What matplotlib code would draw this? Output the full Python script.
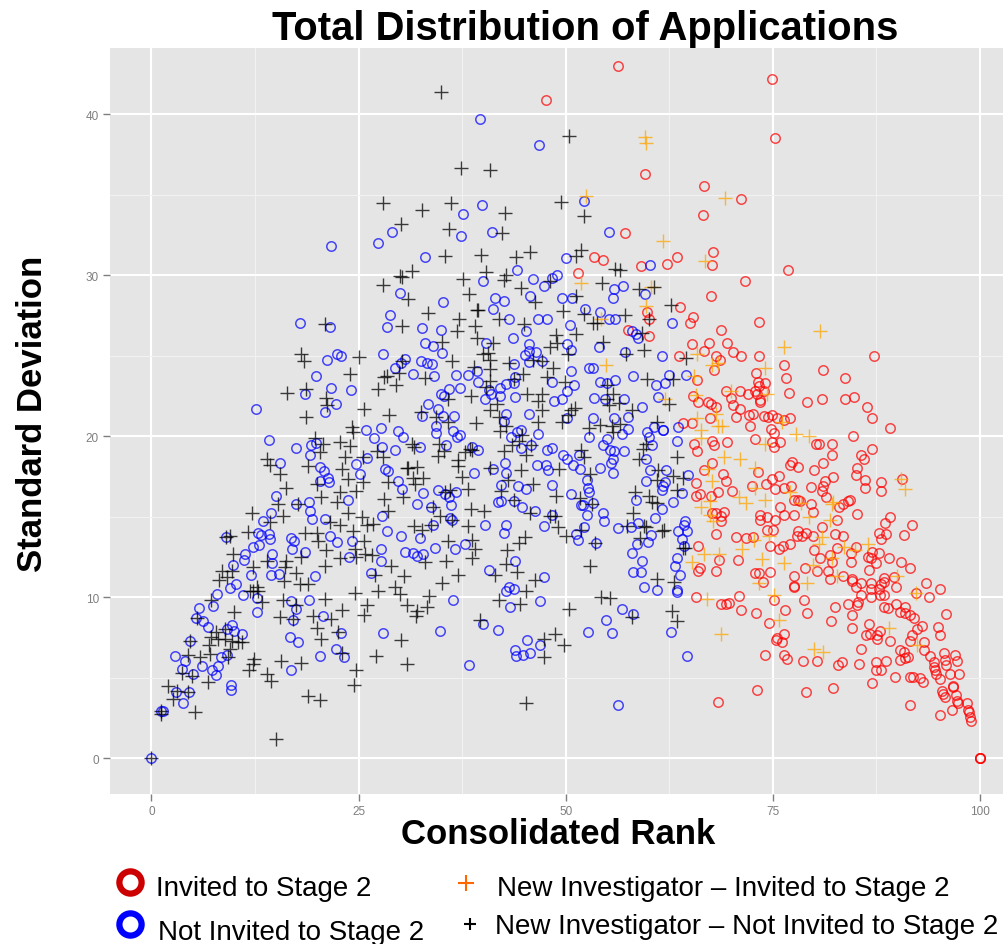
import numpy as np
import matplotlib
matplotlib.use('Agg')
import matplotlib.pyplot as plt
from matplotlib.lines import Line2D

plt.rcParams['font.family'] = ['Liberation Sans', 'DejaVu Sans']

# Invited to Stage 2 (rank, sd)
invited = [
(65.3,25.7),(69.5,25.8),(70.2,25.2),(71.1,25.0),(73.3,25.0),(68.2,25.0),(87.2,25.0),(76.4,24.4),(81.1,24.1),(67.9,24.1),
(73.0,23.9),(83.7,23.6),(65.9,23.5),(76.6,23.6),(73.2,23.35),(74.1,23.3),(73.3,23.1),(72.8,22.8),(73.9,22.8),(76.9,22.7),
(69.3,22.8),(71.0,22.8),(72.0,22.6),(73.1,22.6),(70.0,22.35),(73.4,22.25),(73.4,22.1),(65.4,22.5),(66.0,22.1),(67.2,22.1),
(67.5,22.0),(80.9,22.3),(79.1,22.1),(83.7,22.3),(84.8,22.4),(86.4,21.8),(70.2,21.9),(71.0,21.7),(68.2,21.8),(70.6,21.2),
(72.1,21.3),(72.6,21.4),(73.9,21.25),(74.4,21.2),(74.9,21.3),(75.5,21.15),(76.3,21.0),(77.1,21.1),(67.4,21.1),(65.3,20.8),
(64.1,20.8),(87.0,21.1),(89.2,20.5),(72.3,20.6),(74.8,20.45),(75.2,20.2),(84.7,20.0),(72.9,19.8),(67.6,19.7),(69.5,19.6),
(65.5,19.5),(67.9,19.45),(74.9,19.6),(75.9,19.6),(75.1,19.3),(80.2,19.5),(80.6,19.5),(82.2,19.5),(87.0,19.2),(65.9,19.1),
(82.1,18.85),(85.7,18.85),(86.0,18.6),(77.3,18.4),(77.1,18.2),(78.0,18.1),(81.0,18.3),(80.0,17.9),(67.7,18.3),(66.7,17.9),
(85.2,18.0),(85.0,17.6),(73.2,17.75),(69.0,17.65),(82.3,17.45),(81.3,17.2),(86.1,17.3),(88.0,17.15),(90.6,17.35),(74.9,17.35),
(75.8,17.5),(69.4,17.2),(65.7,17.1),(74.2,17.0),(72.5,16.9),(76.3,16.8),(77.2,16.9),(79.6,16.85),(81.0,16.9),(86.1,16.8),
(75.3,16.7),(80.9,16.6),(88.1,16.6),(70.1,16.6),(68.4,16.5),(67.5,16.3),(66.2,16.4),(65.7,16.3),(81.4,16.2),(77.5,16.0),
(78.3,15.95),(78.0,16.0),(79.6,15.8),(84.3,16.0),(84.1,15.95),(83.5,15.8),(83.0,15.6),(75.9,15.6),(79.9,15.3),(69.1,15.3),
(68.1,15.2),(67.6,15.2),(68.7,15.05),(76.4,15.1),(77.6,15.1),(85.2,15.15),(89.1,15.0),(73.4,15.1),(74.3,15.0),(73.5,14.8),
(75.3,14.8),(82.8,14.8),(68.8,14.7),(88.5,14.6),(91.8,14.45),(80.9,14.35),(74.3,14.15),(75.0,14.15),(78.0,14.1),(79.0,14.0),
(68.1,13.9),(77.9,13.8),(78.5,13.8),(79.8,13.8),(82.5,13.9),(83.5,13.8),(87.8,14.0),(88.6,13.9),(90.8,13.85),(70.5,13.7),
(71.8,13.65),(72.6,13.7),(88.1,13.6),(77.1,13.3),(76.2,13.2),(66.0,13.2),(74.6,13.2),(75.8,13.0),(80.0,12.9),(82.7,13.05),
(85.0,13.1),(84.4,12.75),(87.0,12.8),(87.8,12.75),(81.9,12.6),(86.5,12.5),(86.9,12.4),(89.0,12.4),(80.7,12.4),(68.5,12.3),
(70.8,12.3),(84.4,12.15),(82.1,12.15),(90.5,12.2),(87.4,12.1),(66.2,11.8),(66.0,11.65),(68.2,11.65),(78.9,11.8),(80.3,11.6),
(81.7,11.65),(86.6,11.7),(91.5,11.8),(72.8,11.5),(73.3,11.5),(74.6,11.55),(83.5,11.3),(77.5,11.3),(81.9,11.1),(84.5,11.15),
(84.6,11.0),(85.6,10.9),(86.8,10.9),(88.4,11.2),(88.4,10.95),(89.6,11.25),(88.1,10.8),(77.5,10.7),(77.5,10.65),(73.8,10.95),
(85.0,10.6),(86.8,10.5),(87.8,10.5),(89.85,10.6),(93.5,10.85),(95.2,10.5),(92.3,10.25),(93.9,10.0),(85.6,10.1),(86.8,10.0),
(87.9,10.1),(88.4,10.1),(65.7,10.0),(70.9,10.05),(78.8,9.8),(75.2,9.8),(69.75,9.65),(68.8,9.55),(69.3,9.55),(85.3,9.7),
(84.1,9.55),(85.1,9.5),(82.5,9.4),(88.4,9.4),(88.9,9.3),(89.85,9.55),(90.9,9.4),(71.1,9.2),(76.5,9.2),(73.0,9.0),
(79.1,9.0),(84.5,8.9),(90.3,9.05),(91.0,9.0),(91.5,8.9),(92.0,8.7),(95.9,8.95),(82.0,8.5),(74.5,8.4),(84.5,8.1),
(86.6,8.3),(93.0,8.2),(94.9,8.15),(92.4,8.0),(87.9,7.9),(76.3,7.7),(86.2,7.65),(86.7,7.7),(87.6,7.65),(91.8,7.65),
(95.2,7.65),(75.5,7.45),(75.4,7.35),(76.1,7.2),(87.6,7.4),(89.2,7.3),(91.5,7.25),(93.2,7.2),(93.3,6.7),(85.6,6.8),
(90.4,6.7),(90.8,6.6),(74.1,6.4),(76.3,6.4),(76.7,6.15),(94.0,6.35),(95.6,6.5),(97.0,6.4),(91.3,6.3),(90.9,6.2),
(90.3,6.1),(88.7,6.05),(95.8,6.1),(97.25,6.0),(78.6,6.0),(80.3,6.0),(83.4,5.95),(82.9,5.8),(85.35,5.85),(87.4,5.95),
(94.5,5.95),(95.9,5.8),(94.4,5.65),(94.6,5.45),(87.4,5.5),(88.0,5.45),(94.7,5.25),(96.4,5.25),(97.5,5.25),(89.7,5.05),
(91.5,5.05),(91.9,5.05),(92.8,5.0),(93.1,4.7),(95.2,4.9),(87.0,4.65),(73.1,4.25),(79.0,4.1),(82.3,4.35),(96.7,4.5),
(96.8,4.4),(95.4,4.15),(95.5,4.0),(95.8,3.8),(97.1,3.9),(97.25,3.55),(97.4,3.4),(98.4,3.4),(68.4,3.5),(91.5,3.3),
(96.6,3.0),(98.6,3.0),(98.65,2.85),(95.2,2.7),(98.8,2.55),(98.9,2.3),(100,0),(100,0),(100,0),
(56.35,43.0),(47.6,40.9),(59.6,36.3),(57.2,32.6),(53.45,31.15),(54.5,30.95),(59.1,30.55),(62.2,30.7),(63.4,31.1),(51.5,30.1),
(63.8,28.0),(59.8,27.7),(60.0,27.25),(65.4,27.4),(65.0,27.0),(57.5,26.6),(60.1,26.2),(63.7,25.0),(74.9,42.2),(75.3,38.5),
(71.2,34.7),(66.7,35.5),(66.6,33.7),(67.8,31.4),(67.7,30.6),(71.6,29.6),(76.8,30.3),(67.5,28.7),(68.7,26.6),(73.3,27.1),
(67.3,25.8),(68.6,24.7),(66.7,25.3),
]

# New Investigator - Invited to Stage 2
new_invited = [
(76.3,25.5),(65.9,25.1),(68.4,24.55),(67.7,24.4),(74.1,24.2),(65.5,23.7),(74.3,22.6),(69.9,22.8),(65.7,22.55),(68.2,21.4),
(65.8,21.15),(68.9,20.6),(68.4,20.6),(76.1,20.9),(66.3,20.35),(66.3,19.9),(77.8,20.1),(79.4,20.0),(74.1,19.5),(69.1,18.7),
(71.0,18.6),(72.9,18.0),(67.6,17.2),(67.2,17.95),(90.5,17.35),(90.9,16.7),(72.8,16.8),(77.1,16.5),(70.9,16.2),(71.8,15.85),
(74.1,16.05),(67.4,15.95),(66.3,15.6),(82.3,15.9),(82.1,15.8),(78.4,15.85),(79.4,15.0),(81.9,14.8),(67.4,15.1),(67.8,14.7),
(74.5,13.8),(80.9,13.7),(72.7,13.55),(80.6,13.3),(86.5,13.3),(71.3,13.0),(66.65,12.7),(68.5,12.7),(83.6,13.1),(84.9,12.9),
(82.1,12.4),(73.7,12.35),(76.3,12.1),(65.2,12.2),(79.9,12.0),(90.0,11.3),(82.8,11.3),(79.1,10.9),(73.3,10.85),(92.3,10.25),
(75.2,10.1),(67.0,9.9),(75.7,8.6),(89.0,8.1),(68.8,7.7),(92.4,7.0),(80.0,6.8),(81.0,6.6),
(59.6,38.6),(59.65,38.2),(52.4,34.9),(61.7,32.1),(51.85,29.5),(60.25,29.25),(54.3,27.3),(59.65,28.05),(54.9,24.4),(62.0,22.3),
(66.8,30.85),(69.2,34.8),(80.7,26.5),
]

# Not Invited to Stage 2
not_invited = [
(0,0),(1.2,2.9),(1.35,2.95),(3.0,4.1),(4.5,4.1),(3.8,3.4),(9.55,4.2),(9.65,4.55),(2.9,6.35),(4.0,6.0),
(3.7,5.55),(5.05,5.2),(6.05,5.7),(7.35,5.5),(8.0,5.7),(7.75,5.15),(8.4,6.25),(9.1,6.4),(4.65,7.3),(5.4,8.7),
(5.75,9.3),(6.2,8.5),(6.85,8.15),(7.4,9.45),(9.1,8.0),(9.7,8.25),(10.0,7.9),(10.9,7.7),(7.95,10.2),(9.5,10.55),
(10.15,10.8),(11.0,10.15),(12.7,9.95),(12.8,9.1),(9.9,12.0),(8.95,13.75),(11.15,12.3),(11.3,12.7),(12.3,13.1),(13.0,13.25),
(12.85,14.0),(13.2,13.85),(14.2,13.9),(14.3,13.6),(13.45,14.75),(14.4,15.25),(15.0,16.3),(14.25,19.75),(15.55,18.3),(17.4,19.25),
(19.1,18.85),(19.3,19.45),(19.85,19.55),(20.4,18.05),(20.8,17.85),(20.4,17.2),(21.4,17.15),(21.35,17.4),(17.5,15.8),(19.05,15.9),
(19.1,15.35),(19.35,14.85),(21.0,14.85),(21.6,13.8),(22.4,13.4),(16.8,13.65),(17.25,13.5),(17.0,13.0),(18.5,12.8),(14.5,12.65),
(14.6,12.1),(12.0,11.35),(14.4,11.35),(15.4,11.45),(19.7,11.3),(16.8,9.75),(17.4,9.25),(19.05,9.8),(17.1,8.6),(20.75,8.8),
(16.75,7.5),(17.7,7.2),(22.9,7.75),(20.3,6.35),(22.3,6.75),(23.3,6.3),(16.8,5.45),(27.9,7.75),(23.75,16.0),(24.15,13.5),
(23.9,12.5),(27.7,13.0),(27.7,12.25),(26.5,11.5),(27.8,15.05),(28.45,14.1),(30.1,13.8),(30.6,12.8),(24.65,18.25),(25.2,17.65),
(26.0,18.65),(28.2,17.95),(28.6,17.85),(29.8,17.2),(30.3,16.7),(25.9,20.4),(27.65,20.5),(26.9,19.85),(27.85,19.35),(29.35,19.15),
(29.8,20.3),(30.4,19.95),
(39.6,39.7),(46.75,38.05),(39.95,34.35),(37.65,33.8),(52.2,34.6),(37.4,32.4),(41.15,32.65),(55.25,32.7),(33.05,31.15),(50.0,31.05),
(60.2,30.6),(44.1,30.3),(46.05,29.75),(40.0,29.6),(48.3,29.8),(49.0,30.0),(47.4,29.35),(55.85,29.15),(56.9,29.3),(55.7,28.55),
(59.55,28.8),(41.45,28.6),(42.5,28.4),(45.7,28.7),(49.6,28.6),(50.8,28.6),(35.2,28.35),(41.25,27.9),(43.1,27.3),
(52.3,27.9),(54.2,27.7),(46.6,27.25),(47.7,27.3),(55.2,27.3),(55.9,27.3),(62.8,27.05),(32.65,26.7),(34.95,26.6),(45.25,26.5),
(50.5,26.9),(58.05,26.5),(58.45,26.35),(58.7,26.1),(43.6,26.1),(40.4,25.8),(33.0,25.8),(33.95,25.6),(45.6,25.7),(50.2,25.7),
(54.05,25.5),(35.05,25.15),(46.4,25.2),(45.55,25.3),(45.1,25.05),(50.7,25.35),(57.1,25.2),(61.6,24.95),
(32.55,24.65),(33.2,24.55),(33.85,24.5),(43.8,24.5),(45.55,24.6),(47.1,24.65),(52.85,24.25),(53.3,24.25),(50.65,24.05),(39.25,24.05),
(31.55,23.85),(34.1,23.75),(36.75,23.8),(38.15,23.8),(43.9,23.65),(58.15,23.75),(62.45,23.8),(64.5,23.8),(39.45,23.35),(43.75,23.3),
(42.8,23.25),(48.4,23.35),(54.15,23.35),(54.95,23.3),(55.9,23.5),(61.95,23.3),(60.9,23.15),(51.0,23.15),(35.9,22.9),(37.25,23.0),
(35.0,22.6),(35.3,22.5),(40.8,22.85),(42.05,23.0),(40.95,22.6),(42.05,22.5),(40.3,22.3),(43.9,22.4),(50.1,22.8),(49.5,22.3),
(48.6,22.15),(53.45,22.35),(54.7,22.3),(57.05,22.3),(61.2,22.4),(33.35,22.0),(34.55,21.7),(59.15,21.8),(32.65,21.25),(35.15,21.25),
(36.55,21.25),(42.85,21.4),(45.55,21.4),(53.35,21.1),(55.85,21.15),(57.5,21.2),(50.1,21.15),(42.55,20.95),(34.3,20.65),(60.6,20.55),
(61.8,20.4),(63.6,20.55),
(21.65,31.8),(27.4,32.0),(29.05,32.65),(29.95,28.9),(28.75,27.5),(28.4,26.8),(17.9,27.05),(21.6,26.8),(22.35,25.1),(22.85,24.95),
(21.2,24.75),(27.9,25.1),(30.6,24.8),(30.1,24.55),(29.4,24.2),(19.85,23.7),(21.65,23.0),(24.1,22.85),(18.5,22.6),(22.25,22.0),
(12.65,21.65),(21.0,21.5),
(34.4,20.2),(36.35,20.3),(37.25,20.05),(36.85,19.95),(32.4,19.3),(35.55,19.45),(43.35,19.95),(44.1,20.25),(44.6,20.4),
(46.65,20.1),(45.8,19.45),(44.6,19.25),(47.8,19.15),(48.4,19.25),(39.45,19.15),(38.65,19.3),(52.85,19.95),(54.55,19.45),(55.0,19.8),
(56.75,20.15),(57.5,20.45),(59.85,20.25),(60.0,19.95),(60.45,19.45),(61.8,20.35),(63.4,19.7),(57.05,19.1),(55.4,19.15),(55.85,19.05),
(55.75,18.55),(55.5,18.35),(49.7,18.85),(50.1,18.55),(51.6,18.85),(50.9,18.2),(51.7,17.95),(54.15,18.0),(55.75,17.7),(59.75,18.55),
(60.15,17.9),(62.05,17.9),(64.8,17.6),(42.7,18.35),(42.75,17.7),(41.2,17.95),(38.95,17.7),(46.5,18.2),(47.6,18.2),(47.85,17.9),
(52.6,17.3),(59.75,17.2),(62.0,17.15),(61.8,16.9),(61.6,16.65),(48.3,16.95),(42.2,16.95),(44.3,16.9),(45.15,16.7),(52.75,16.8),
(52.8,16.5),(50.7,16.4),(32.8,16.45),(34.6,16.65),(35.45,16.4),(35.95,16.2),(36.75,16.55),(64.0,16.45),(58.5,16.05),
(63.0,15.9),(41.85,15.9),(42.25,15.95),(43.7,15.95),(44.75,15.6),(46.3,15.35),(32.1,15.75),(33.7,15.6),(36.1,15.7),(51.9,15.7),
(52.1,15.7),(53.35,15.85),(52.55,15.1),(54.55,15.25),(54.6,14.75),(61.65,15.5),(60.8,14.9),(48.3,15.1),(36.05,14.9),(36.25,14.8),
(33.95,14.45),(40.2,14.45),(42.8,14.45),(42.55,13.95),(47.4,14.4),(52.25,14.35),(51.3,13.9),(51.45,13.55),(56.35,14.3),(57.9,14.35),
(58.75,14.6),(64.4,14.7),(64.3,14.45),(64.6,14.1),(63.5,14.1),(64.0,13.6),(60.35,13.85),(59.95,13.45),(58.65,13.3),
(32.4,13.65),(34.2,13.05),(36.65,13.0),(37.9,13.3),(31.55,12.75),(32.0,12.55),(32.8,12.65),(53.6,13.35),(57.95,12.75),
(64.3,13.2),(63.4,12.45),(63.25,11.95),(59.25,12.25),(43.9,12.25),(40.8,11.7),(47.4,11.25),(58.1,11.55),(59.1,11.55),(63.8,11.4),
(59.45,10.65),(61.0,10.45),(63.4,10.45),(63.45,10.3),(43.2,10.65),(43.7,10.5),(42.85,10.35),(36.45,9.8),(46.9,9.75),(43.3,9.4),
(56.85,9.25),(58.15,8.95),(54.85,8.6),(40.05,8.35),(41.85,7.95),(34.85,7.9),(52.65,7.8),(55.6,7.75),(62.7,7.85),(45.3,7.35),
(46.9,7.0),(43.9,6.7),(44.0,6.35),(44.9,6.4),(45.75,6.5),(38.3,5.8),(64.7,6.35),(56.35,3.3),
]

# New Investigator - Not Invited to Stage 2
new_not_invited = [
(1.2,2.75),(1.2,2.95),(0,0),(2.0,4.5),(2.65,3.65),(3.05,4.15),(4.45,4.1),(5.2,2.85),(6.85,4.7),(3.65,5.3),
(4.95,5.1),(4.45,6.4),(5.85,6.25),(7.05,6.45),(4.65,7.3),(5.45,8.7),(7.0,7.0),(7.25,7.5),(8.05,7.4),(8.9,7.4),
(9.7,7.3),(10.5,7.2),(10.9,7.2),(9.5,6.75),(9.3,6.25),(7.85,7.8),(8.9,8.0),(10.0,9.1),(7.2,9.8),(11.9,10.4),
(12.3,10.4),(12.9,10.4),(12.7,10.6),(13.3,9.7),(12.4,6.15),(12.3,5.85),(11.8,5.45),(13.9,5.2),(14.4,4.8),(15.6,6.05),
(18.1,5.9),(18.9,3.85),(20.4,3.6),(15.0,1.2),(24.4,4.55),(24.7,5.5),(27.1,6.35),(30.8,5.85),(30.1,7.35),(23.0,6.55),
(22.55,7.8),(20.45,7.4),(20.0,8.05),(21.7,8.65),(19.5,8.8),(15.5,8.75),(17.1,8.65),(15.9,9.8),(17.5,9.5),(21.0,9.9),
(23.0,9.2),(25.65,8.9),(26.0,9.5),(24.6,10.25),(27.4,10.4),(29.4,10.6),(30.0,10.2),(30.9,9.5),(30.5,11.3),(27.0,11.4),
(16.0,11.0),(17.5,11.5),(17.9,10.8),(18.9,10.8),(16.3,12.25),(16.1,11.85),(13.9,12.25),(12.3,11.85),(9.7,11.65),(9.1,11.25),
(8.1,11.05),(8.5,11.65),(9.8,12.7),(9.5,13.8),(8.95,13.7),(11.7,14.05),(12.1,15.25),(14.3,14.65),(15.9,15.05),(15.3,15.8),
(17.7,15.8),(16.2,16.75),(13.9,18.6),(14.3,18.2),(15.5,17.65),(18.9,18.15),(18.5,14.0),(20.0,14.0),(20.1,13.5),(18.1,12.5),
(21.1,12.9),(21.0,11.95),(22.75,12.4),(24.75,12.5),(24.55,13.0),(25.8,12.7),(26.6,12.6),(28.9,11.95),(25.6,13.5),(22.75,14.45),
(24.35,14.1),(21.55,14.65),(25.4,15.0),(26.8,14.55),(26.0,14.45),(28.6,15.35),(28.1,16.1),(30.4,16.2),(20.5,16.2),(22.35,15.9),
(23.75,15.25),(22.75,16.5),(24.75,16.6),(19.95,17.05),(25.55,17.15),(23.75,17.35),(22.95,17.95),(23.35,18.7),(25.55,18.7),(28.0,18.7),
(28.6,17.15),(27.2,19.1),(24.0,19.4),(22.75,19.65),(20.75,19.5),(19.75,19.9),(24.35,20.25),(30.8,18.0),(20.35,19.0),
(34.9,41.35),(50.45,38.65),(37.4,36.65),(40.85,36.5),(49.4,34.55),(36.15,34.5),(32.7,34.05),(42.65,33.85),(52.15,33.65),(35.9,32.85),
(42.3,32.6),(35.4,31.2),(39.75,31.25),(44.0,31.15),(45.75,31.4),(51.3,31.2),(51.85,31.55),(55.95,30.4),(56.55,30.3),
(31.45,30.25),(40.35,30.2),(42.8,30.0),(37.65,29.75),(42.55,29.7),(48.1,29.6),(54.35,29.5),(58.85,29.15),(60.65,29.25),
(44.55,29.2),(38.3,28.85),(46.3,28.35),(51.3,28.7),(33.35,27.65),(39.35,27.85),(39.45,27.8),(49.7,27.75),(52.2,27.6),
(37.15,27.3),(42.0,27.25),(57.2,27.5),(62.7,28.15),(60.0,27.25),(53.25,27.0),(53.75,27.05),(39.1,26.85),(44.95,26.95),
(36.9,26.55),(48.8,26.3),(51.3,26.35),(59.2,26.4),(39.25,26.1),(35.05,25.85),(41.2,25.8),(54.55,25.85),(48.9,25.8),(48.1,25.5),
(50.3,25.1),(59.5,25.35),(40.05,25.1),(40.65,25.15),(57.25,25.1),(36.3,24.65),(40.85,24.7),(43.15,24.55),(46.1,24.7),(47.1,24.65),
(64.5,24.85),(38.95,24.3),(40.85,24.15),(48.45,24.2),(44.9,23.85),(33.0,23.6),(47.7,23.65),(40.85,23.4),(43.7,23.55),
(49.9,23.35),(59.85,23.55),(63.0,23.55),(54.95,23.15),(40.4,23.05),(38.55,22.5),(35.85,22.3),(45.35,22.6),(47.1,22.6),(46.7,22.15),
(55.75,22.6),(54.95,22.3),(41.65,22.0),(55.25,21.9),(56.45,22.05),(62.5,22.0),(32.5,21.5),(40.85,21.6),(47.1,21.6),(51.1,21.75),
(50.7,21.6),(57.95,21.6),(34.4,21.2),(41.95,21.2),(50.3,21.3),(35.75,20.85),(39.15,20.8),(46.6,20.9),(42.85,20.65),(49.5,20.85),
(61.05,20.9),(54.15,20.7),(55.55,20.6),(56.55,20.75),
(28.0,34.5),(30.1,33.2),(30.05,29.95),(30.3,29.9),(28.0,29.4),(31.0,28.5),(21.0,26.95),(30.3,26.85),(18.1,25.1),(18.4,24.65),
(25.05,24.9),(30.3,24.65),(24.0,23.85),(28.4,23.75),(28.05,23.65),(29.9,23.9),(29.5,23.2),(27.3,22.95),(18.7,22.9),(16.4,22.65),
(21.05,22.35),(21.15,21.95),(25.7,21.65),(28.65,21.3),(18.7,21.2),(24.2,20.55),
(42.05,20.3),(44.7,20.05),(44.4,19.7),(43.5,19.45),(42.6,19.1),(45.2,18.85),(45.8,19.45),(31.4,19.5),(31.7,19.3),(34.75,19.5),
(35.35,19.05),(34.55,18.75),(38.45,19.2),(37.85,19.0),(38.65,19.15),(37.05,18.5),(37.05,18.15),(32.0,18.1),(31.0,18.0),(32.75,17.4),
(31.55,17.4),(31.8,17.05),(37.45,17.45),(40.85,18.0),(44.55,17.9),(43.05,17.3),(46.1,17.0),(49.15,17.95),(51.9,19.15),(52.15,18.7),
(52.95,17.65),(52.8,20.5),(55.75,20.25),(59.35,19.2),(59.75,19.5),(58.85,18.55),(63.45,18.7),(61.2,17.9),(61.05,17.25),(63.0,17.55),
(64.2,17.4),(63.4,16.65),(58.4,16.5),(60.0,16.3),(60.45,15.9),(61.0,15.85),(58.15,15.25),(59.5,14.4),(59.7,14.35),(57.35,14.4),
(61.9,14.15),(61.6,14.1),(59.0,13.65),(64.4,13.05),(64.1,13.05),(52.95,11.9),(53.55,13.35),(51.9,14.15),(50.0,13.8),(49.1,14.35),
(48.7,15.05),(48.1,15.05),(45.7,15.25),(43.7,16.0),(42.2,16.6),(48.8,16.25),(51.7,16.15),(53.15,15.8),(38.15,16.7),(36.05,16.65),
(35.45,16.5),(34.0,15.6),(38.55,15.5),(40.15,15.35),(34.85,15.05),(36.25,14.8),(38.15,14.4),(33.8,14.45),(31.75,14.4),
(32.6,14.15),(35.75,13.5),(38.65,13.55),(39.05,13.0),(45.1,13.7),(44.4,13.35),(42.95,12.95),(38.65,12.4),(35.5,12.25),
(33.0,12.15),(42.85,12.05),(44.1,11.55),(41.45,11.4),(37.05,11.4),(35.05,10.9),(46.3,11.05),(45.15,10.35),(33.55,10.05),
(42.0,9.8),(44.5,9.6),(33.3,9.4),(32.1,9.15),(31.95,8.85),(39.65,8.55),(50.4,9.25),(54.25,10.0),
(55.35,9.95),(57.95,8.75),(61.0,11.15),(63.1,10.95),(62.8,9.15),(63.45,8.5),(48.7,7.7),(47.4,7.4),(49.85,7.05),(47.4,6.3),
(45.15,3.45),
]

x_ticks = [0, 25, 50, 75, 100]
y_ticks = [0, 10, 20, 30, 40]

W, H = 1004, 945
fig = plt.figure(figsize=(W/100, H/100), dpi=100)
ax = fig.add_axes([110/W, 1-795/H, (W-110)/W, (795-49)/H])
ax.set_facecolor('#E5E5E5')
ax.set_xlim(-5, 102.9)
ax.set_ylim(-2.23, 44.1)
for s in ax.spines.values():
    s.set_visible(False)

ax.set_xticks(x_ticks)
ax.set_yticks(y_ticks)
ax.set_xticks([12.5, 37.5, 62.5, 87.5], minor=True)
ax.set_yticks([5, 15, 25, 35], minor=True)
ax.grid(which='major', color='white', lw=1.5)
ax.grid(which='minor', color='#F2F2F2', lw=0.8)
ax.set_axisbelow(True)
ax.tick_params(which='major', length=5, width=1, color='#7F7F7F', labelcolor='#7F7F7F', labelsize=8.5, pad=3)
ax.tick_params(which='minor', length=0)

# series drawn circles first, crosses on top
for pts, col in [(invited, '#FF0000'), (not_invited, '#0000FF')]:
    a = np.array(pts)
    ax.plot(a[:, 0], a[:, 1], ls='none', marker='o', ms=6.8, mfc='none', mec=col, mew=1.1, alpha=0.7, clip_on=False)
for pts, col in [(new_invited, '#FFA500'), (new_not_invited, '#000000')]:
    a = np.array(pts)
    ax.plot(a[:, 0], a[:, 1], ls='none', marker='+', ms=10, mec=col, mew=1.0, alpha=0.75)

fig.text(585/W, 1-29/H, 'Total Distribution of Applications', ha='center', va='center', fontsize=28.8, fontweight='bold')
fig.text(558/W, 1-835/H, 'Consolidated Rank', ha='center', va='center', fontsize=25, fontweight='bold')
fig.text(33/W, 1-414/H, 'Standard Deviation', ha='center', va='center', rotation=90, fontsize=25, fontweight='bold')

# legend is hand placed like in the slide
fig.add_artist(Line2D([130/W], [1-883/H], marker='o', ms=16, mfc='none', mec='#CC0000', mew=4.5, transform=fig.transFigure))
fig.add_artist(Line2D([130/W], [1-925/H], marker='o', ms=16, mfc='none', mec='#0000FF', mew=4.5, transform=fig.transFigure))
fig.add_artist(Line2D([466/W], [1-884/H], marker='+', ms=11, mec='#FF6600', mew=1.5, transform=fig.transFigure))
fig.add_artist(Line2D([470/W], [1-925/H], marker='+', ms=9, mec='#000000', mew=1.5, transform=fig.transFigure))
fig.text(156/W, 1-889/H, 'Invited to Stage 2', va='center', fontsize=20)
fig.text(158/W, 1-933/H, 'Not Invited to Stage 2', va='center', fontsize=20)
fig.text(497/W, 1-889/H, 'New Investigator – Invited to Stage 2', va='center', fontsize=20)
fig.text(495/W, 1-927/H, 'New Investigator – Not Invited to Stage 2', va='center', fontsize=20)

fig.savefig('out.png', dpi=100)
